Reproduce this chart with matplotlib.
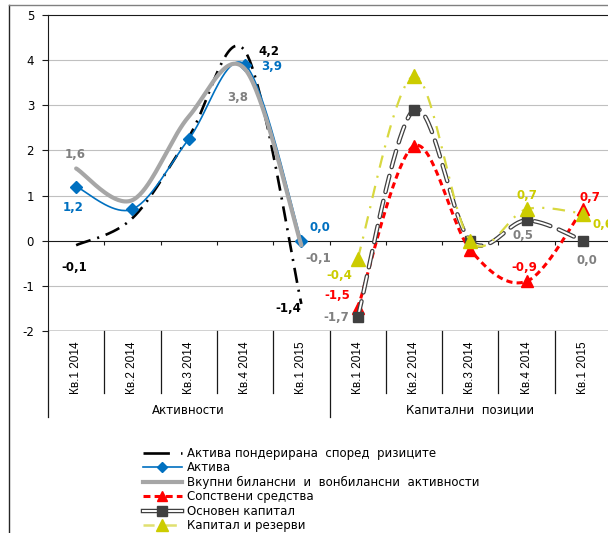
import numpy as np
import matplotlib
matplotlib.use("Agg")
import matplotlib.pyplot as plt
from matplotlib.lines import Line2D
from matplotlib import font_manager as fm
import matplotlib.transforms as mtransforms

plt.rcParams['font.family'] = ['DejaVu Sans']
plt.rcParams['lines.scale_dashes'] = False

# ---------------- data ----------------
categories = ['Кв.1 2014', 'Кв.2 2014', 'Кв.3 2014', 'Кв.4 2014', 'Кв.1 2015',
              'Кв.1 2014', 'Кв.2 2014', 'Кв.3 2014', 'Кв.4 2014', 'Кв.1 2015']
groups = ['Активности', 'Капитални  позиции']
nan = np.nan
risk_weighted = [-0.1, 0.5, 2.3, 4.2, -1.4, nan, nan, nan, nan, nan]
assets = [1.2, 0.7, 2.25, 3.9, 0.0, nan, nan, nan, nan, nan]
total_activities = [1.6, 0.9, 2.75, 3.8, -0.1, nan, nan, nan, nan, nan]
own_funds = [nan, nan, nan, nan, nan, -1.5, 2.1, -0.2, -0.9, 0.7]
core_capital = [nan, nan, nan, nan, nan, -1.7, 2.9, 0.0, 0.45, 0.0]
capital_reserves = [nan, nan, nan, nan, nan, -0.4, 3.65, 0.0, 0.7, 0.6]
series_names = ['Актива пондерирана  според  ризиците', 'Актива',
                'Вкупни билансни  и  вонбилансни  активности', 'Сопствени средства',
                'Основен капитал', 'Капитал и резерви']

# ---------------- helpers ----------------
def smooth(xs, ys, n=40):
    """Excel-like smoothed line (Bezier with Catmull-Rom control points)."""
    xs = np.asarray(xs, float); ys = np.asarray(ys, float)
    m = ~np.isnan(ys)
    P = np.column_stack([xs[m], ys[m]])
    out = [P[0]]
    k = len(P)
    for i in range(k - 1):
        p0 = P[i - 1] if i > 0 else P[i]
        p1, p2 = P[i], P[i + 1]
        p3 = P[i + 2] if i + 2 < k else P[i + 1]
        c1 = p1 + (p2 - p0) / 6.0
        c2 = p2 - (p3 - p1) / 6.0
        t = np.linspace(0, 1, n)[1:, None]
        b = ((1 - t) ** 3) * p1 + 3 * ((1 - t) ** 2) * t * c1 + 3 * (1 - t) * t ** 2 * c2 + t ** 3 * p2
        out.extend(b)
    out = np.array(out)
    return out[:, 0], out[:, 1]

def pick_font(cands, default='DejaVu Sans'):
    names = {f.name for f in fm.fontManager.ttflist}
    for c in cands:
        if c in names:
            return c
    return default

cat_font = pick_font(['Liberation Sans Narrow', 'Liberation Sans', 'Arimo'])

# ---------------- figure ----------------
W, H = 608, 533
fig = plt.figure(figsize=(W / 100, H / 100), dpi=100)
L, R, T, B = 48, 611, 15, 331
ax = fig.add_axes([L / W, 1 - B / H, (R - L) / W, (B - T) / H])

x = np.arange(10) + 0.5

# grid lines
for g in [-1, 1, 2, 3, 4]:
    ax.axhline(g, color='#C0C0C0', lw=0.8, zorder=0)
ax.axhline(-2, color='#1a1a1a', lw=1.0, zorder=1)

# series 1: risk weighted assets (black dash-dot)
sx, sy = smooth(x, risk_weighted)
ax.plot(sx, sy, color='black', lw=1.9, dashes=(11, 5, 1.5, 5), zorder=3)

# series 2: assets (blue, diamonds)
blue = '#0070C0'
sx, sy = smooth(x, assets)
ax.plot(sx, sy, color=blue, lw=1.2, zorder=4)
ax.plot(x, assets, ls='none', marker='D', ms=6, color=blue, zorder=4.1)

# series 3: total activities (thick gray)
gray = '#A6A6A6'
sx, sy = smooth(x, total_activities)
ax.plot(sx, sy, color=gray, lw=3.0, zorder=5, solid_capstyle='round')

# series 4: own funds (red dashed, triangles)
red = '#FF0000'
sx, sy = smooth(x, own_funds)
ax.plot(sx, sy, color=red, lw=2.2, dashes=(4.5, 3), zorder=6)
ax.plot(x, own_funds, ls='none', marker='^', ms=8, color=red, zorder=6.1)

# series 5: core capital (double line, squares)
dgray = '#404040'
sx, sy = smooth(x, core_capital)
ax.plot(sx, sy, color=dgray, lw=3.2, dashes=(12, 6.5), dash_capstyle='round', zorder=7)
ax.plot(sx, sy, color='white', lw=1.4, dashes=(12, 6.5), dash_capstyle='round', zorder=7.05)
ax.plot(x, core_capital, ls='none', marker='s', ms=7.5, color=dgray, zorder=7.1)

# series 6: capital and reserves (yellow dash-dot, triangles)
yel = '#CCCC00'
sx, sy = smooth(x, capital_reserves)
ax.plot(sx, sy, color='#D8D840', lw=1.6, dashes=(9, 6, 1.5, 6), zorder=8)
ax.plot(x, capital_reserves, ls='none', marker='^', ms=9.5, color=yel, zorder=8.1)

# data labels: (series values, index, color, dx, dy)  dy positive = down (pixels)
lab_gray = '#808080'
labels = [
    (total_activities, 0, lab_gray, -1, -14),
    (assets, 0, blue, -3, 21),
    (risk_weighted, 0, 'black', -2, 22),
    (risk_weighted, 3, 'black', 24, 0),
    (assets, 3, blue, 27, 2),
    (total_activities, 3, lab_gray, -7, 28),
    (risk_weighted, 4, 'black', -13, 5),
    (assets, 4, blue, 19, -13),
    (total_activities, 4, lab_gray, 17, 13),
    (capital_reserves, 5, yel, -18, 17),
    (own_funds, 5, red, -20, -13),
    (core_capital, 5, lab_gray, -21, 0),
    (capital_reserves, 8, yel, 0, -14),
    (core_capital, 8, lab_gray, -4, 15),
    (own_funds, 8, red, -2, -14),
    (own_funds, 9, red, 7, -12),
    (capital_reserves, 9, yel, 20, 11),
    (core_capital, 9, lab_gray, 4, 20),
]
for vals, i, c, dx, dy in labels:
    v = vals[i]
    txt = f"{v:.1f}".replace('.', ',')
    if txt == '-0,0':
        txt = '0,0'
    ax.annotate(txt, (x[i], v), xytext=(dx, -dy), textcoords='offset pixels',
                ha='center', va='center', fontsize=8.5, fontweight='bold',
                color=c, zorder=10, annotation_clip=False)

# axes styling
ax.set_xlim(0, 10)
ax.set_ylim(-2, 5)
ax.spines['right'].set_visible(False)
ax.spines['top'].set_color('#1a1a1a')
ax.spines['left'].set_color('#1a1a1a')
ax.spines['bottom'].set_position(('data', 0))
ax.spines['bottom'].set_color('#1a1a1a')
ax.set_xticks(np.arange(1, 10))
ax.set_xticklabels([])
ax.tick_params(axis='x', direction='out', length=3, width=0.8, color='#1a1a1a')
ax.set_yticks(np.arange(-2, 6))
ax.set_yticklabels([str(v) for v in range(-2, 6)])
ax.tick_params(axis='y', direction='out', length=4, width=0.8, color='#1a1a1a',
               labelsize=8.5, pad=6)

# multi-level category axis below the plot
trans = mtransforms.blended_transform_factory(ax.transData, ax.transAxes)
ph = B - T
y_sep = -(393 - B) / ph
y_grp = -(417 - B) / ph
for b in range(0, 11):
    yb = y_grp if b in (0, 5, 10) else y_sep
    ax.add_line(Line2D([b, b], [0, yb], transform=trans, color='#1a1a1a', lw=0.9, clip_on=False))
y_cat = -((343 + 392) / 2 - B) / ph
if cat_font == 'Liberation Sans Narrow':
    cat_fs = 9.5
elif cat_font == 'DejaVu Sans':
    cat_fs = 7.5
else:
    cat_fs = 8.5
for xi, c in zip(x, categories):
    ax.text(xi, y_cat, c, transform=trans, rotation=90, ha='center', va='center',
            fontsize=cat_fs, family=cat_font)
y_g = -(410 - B) / ph
ax.text(2.5, y_g, groups[0], transform=trans, ha='center', va='center', fontsize=8.5)
ax.text(7.5, y_g, groups[1], transform=trans, ha='center', va='center', fontsize=8.5)

# outer chart border
fig.add_artist(Line2D([9 / W, 9 / W], [0, 1 - 5 / H], transform=fig.transFigure, color='#262626', lw=1.0))
fig.add_artist(Line2D([9 / W, 1], [1 - 5 / H, 1 - 5 / H], transform=fig.transFigure, color='#808080', lw=1.0))

# legend
h1 = Line2D([], [], color='black', lw=1.9, dashes=(19, 8, 1.5, 6))
h2 = Line2D([], [], color=blue, lw=1.2, marker='D', ms=5)
h3 = Line2D([], [], color=gray, lw=3.0)
h4 = Line2D([], [], color=red, lw=2.2, dashes=(5, 3), marker='^', ms=7)
h5a = Line2D([], [], color=dgray, lw=3.2, dash_capstyle='round')
h5b = Line2D([], [], color='white', lw=1.4)
h5c = Line2D([], [], ls='none', color=dgray, marker='s', ms=6.5)
h6 = Line2D([], [], color='#E0E070', lw=1.8, dashes=(8, 8), marker='^', ms=8,
            markerfacecolor=yel, markeredgecolor=yel)
leg = fig.legend([h1, h2, h3, h4, (h5a, h5b, h5c), h6], series_names,
                 loc='upper left', bbox_to_anchor=(143 / W, 1 - 447 / H),
                 frameon=False, fontsize=8.5, handlelength=3.3, handletextpad=0.4,
                 labelspacing=0.12, borderpad=0, borderaxespad=0)

fig.savefig('out.png', dpi=100)
